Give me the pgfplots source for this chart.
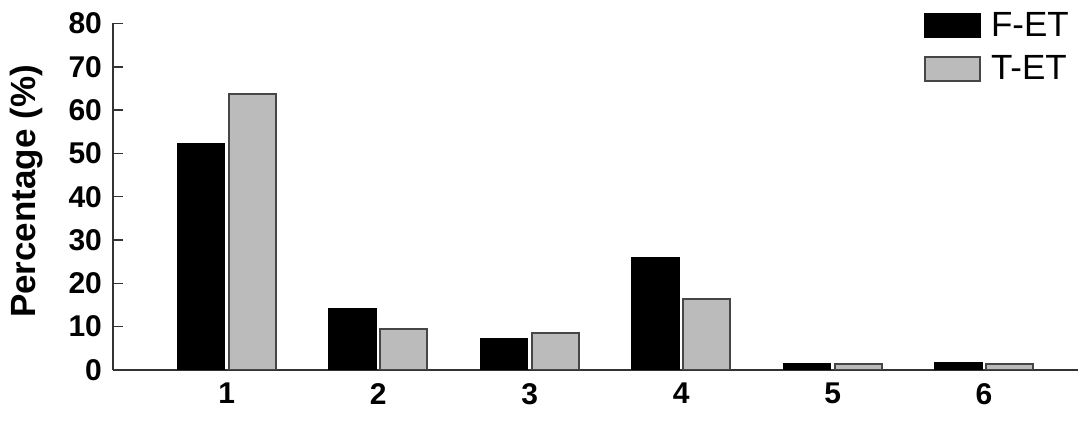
\documentclass[border=0pt]{standalone}
\usepackage{fontspec}
\setmainfont{Liberation Sans}
\usepackage{pgfplots}
\pgfplotsset{compat=1.18}
\definecolor{tetgray}{RGB}{187,187,187}
\definecolor{tetedge}{RGB}{70,70,70}
\begin{document}
\begin{tikzpicture}
\useasboundingbox (-56.5pt,-28pt) rectangle (487pt,185pt);
\begin{axis}[
    scale only axis,
    width=482.5pt, height=173.3pt,
    ybar=2pt, bar width=23.5pt,
    xmin=0.25, xmax=6.62,
    ymin=0, ymax=80,
    ytick={0,10,...,80},
    xtick={1,2,3,4,5,6},
    extra x ticks={6.62},
    extra x tick labels={},
    extra x tick style={major tick length=5pt, tick style={black, line width=0.8pt}},
    major x tick style={draw=none},
    axis x line=bottom, axis y line=left,
    axis line style={-, line width=0.8pt, black!80},
    tick align=inside,
    major tick length=5pt,
    ytick style={line width=0.8pt, black!80},
    /pgf/number format/assume math mode=true,
    tick label style={font=\fontsize{15}{15}\selectfont\bfseries},
    yticklabel style={xshift=-2pt},
    xticklabel style={yshift=-3pt},
    ylabel={Percentage (\%)},
    every axis y label/.style={at={(axis description cs:-0.09,0.515)}, rotate=90, anchor=center,
        font=\fontsize{17.5}{17.5}\selectfont\bfseries},
    legend style={draw=none, fill=none, at={(axis description cs:0.84,1.04)}, anchor=north west,
        font=\fontsize{17.5}{17.5}\selectfont, row sep=6pt, inner sep=0pt,
        nodes={inner sep=1pt}},
    legend cell align=left,
    legend image code/.code={\draw[#1, ybar=0pt] (0pt,-6pt) rectangle (27.5pt,6pt);
        \path (31.5pt,0pt);},
]
\addplot[fill=black, draw=black, line width=0.8pt] coordinates {
    (1,52.3) (2,14.2) (3,7.1) (4,26.0) (5,1.4) (6,1.7)
};
\addlegendentry{F-ET}
\addplot[fill=tetgray, draw=tetedge, line width=1pt] coordinates {
    (1,63.7) (2,9.5) (3,8.5) (4,16.5) (5,1.4) (6,1.4)
};
\addlegendentry{T-ET}
\end{axis}
\end{tikzpicture}
\end{document}
